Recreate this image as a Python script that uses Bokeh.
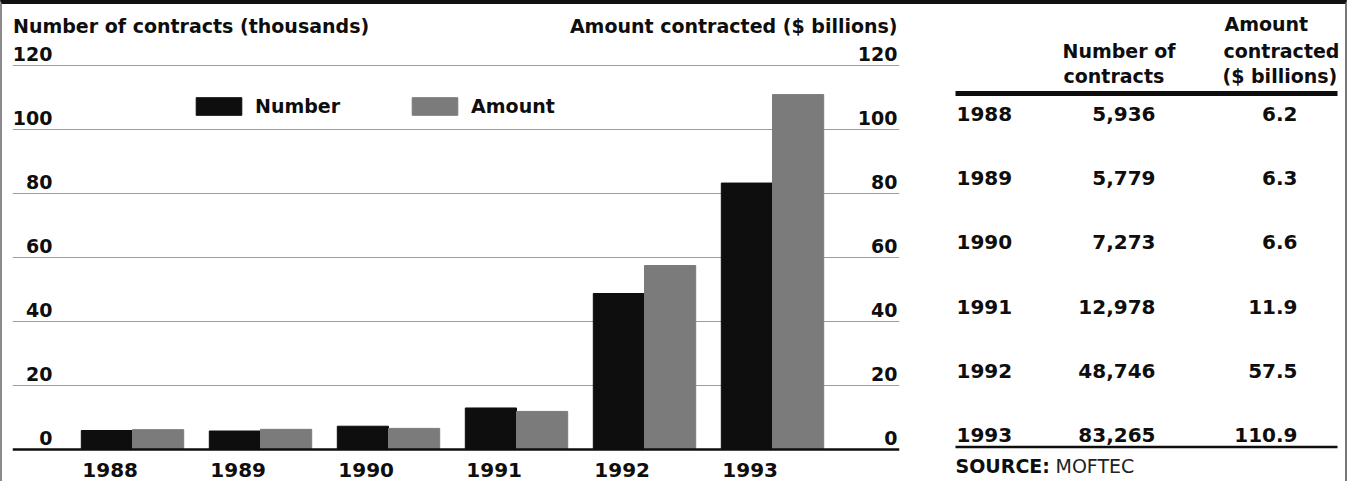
import numpy as np
from bokeh.plotting import figure
from bokeh.models import (Range1d, FixedTicker, Span, Legend, LegendItem,
                          ColumnDataSource, Grid)
from bokeh.layouts import row
from bokeh.transform import dodge
from bokeh.core.properties import value
from bokeh.embed import file_html
from bokeh.resources import INLINE

# ---------------- data ----------------
years = ["1988", "1989", "1990", "1991", "1992", "1993"]
contracts = [5936, 5779, 7273, 12978, 48746, 83265]          # number of contracts
amount = [6.2, 6.3, 6.6, 11.9, 57.5, 110.9]                  # $ billions
y_ticks = [0, 20, 40, 60, 80, 100, 120]
left_title = "Number of contracts (thousands)"
right_title = "Amount contracted ($ billions)"
series_names = ["Number", "Amount"]
head_number = ["Number of", "contracts"]
head_amount = ["Amount", "contracted", "($ billions)"]
source_label = "SOURCE:"
source_name = "MOFTEC"

# ---------------- style / layout ----------------
FONT = value("DejaVu Sans")
BLACK = "#0e0e0e"
GRAY = "#7b7b7b"
GRID = "#9c9c9c"

PX0, PXG = 132.0, 128.0     # page x of first group centre, px per group
PY0, PYU = 449.0, 3.2       # page y of value 0, px per unit
BT, BL, BR = 4, 2, 2         # border widths
W1, W2, H = 913, 430, 477


def dx(px):
    return (px - PX0) / PXG


def dy(py):
    return (PY0 - py) / PYU


chart = figure(width=W1, height=H,
               x_range=Range1d(dx(12), dx(899)), y_range=Range1d(dy(481), dy(4)),
               output_backend="svg", toolbar_location=None,
               x_axis_location=None, y_axis_location=None,
               min_border_left=12 - BL, min_border_right=(BL + W1) - 899,
               min_border_top=0, min_border_bottom=0,
               outline_line_color=None, background_fill_color="white",
               border_fill_color="white")
chart.xgrid.visible = False
chart.ygrid.visible = False
chart.add_layout(Grid(dimension=1, ticker=FixedTicker(ticks=y_ticks[1:]),
                      grid_line_color=GRID, grid_line_width=1.2), "center")

idx = np.arange(len(years))
src = ColumnDataSource(dict(x=idx, number=np.array(contracts) / 1000.0,
                            amount=amount, year=years))
r_num = chart.vbar(x=dodge("x", -0.2), top="number", width=0.4, source=src,
                   fill_color=BLACK, line_color=BLACK)
r_amt = chart.vbar(x=dodge("x", 0.2), top="amount", width=0.4, source=src,
                   fill_color=GRAY, line_color=GRAY)
chart.add_layout(Span(location=0, dimension="width", line_color=BLACK,
                      line_width=2.5))

lab = [str(t) for t in y_ticks]
common = dict(text_font=FONT, text_font_style="bold", text_color=BLACK)
lab_y = np.array(y_ticks) + 12.0 / PYU
chart.text(x=[dx(52)] * len(y_ticks), y=lab_y, text=lab,
           text_align="right", text_baseline="middle",
           text_font_size="19px", **common)
chart.text(x=[dx(897)] * len(y_ticks), y=lab_y, text=lab,
           text_align="right", text_baseline="middle",
           text_font_size="19px", **common)
chart.text(x=[dx(12.5)], y=[dy(25)], text=[left_title], text_align="left",
           text_baseline="middle", text_font_size="19px", **common)
chart.text(x=[dx(897)], y=[dy(25)], text=[right_title], text_align="right",
           text_baseline="middle", text_font_size="19px", **common)
chart.text(x=dodge("x", -0.4 + 1.0 / PXG), y=dy(469.5), text="year", source=src,
           text_align="left", text_baseline="middle",
           text_font_size="20px", **common)

legend = Legend(items=[LegendItem(label=series_names[0], renderers=[r_num]),
                       LegendItem(label=series_names[1], renderers=[r_amt])],
                orientation="horizontal", location=(190 - 12, 481 - 117),
                glyph_width=57, glyph_height=22, label_standoff=8, spacing=66,
                padding=0, margin=0, border_line_alpha=0,
                background_fill_alpha=0,
                label_text_font="DejaVu Sans", label_text_font_style="bold",
                label_text_font_size="19px", label_text_color=BLACK,
                label_height=22)
chart.add_layout(legend, "center")

# ---------------- table ----------------
RY0, RYS = 113.5, 64.2


def ty(py):
    return (py - RY0) / RYS


table = figure(width=W2, height=H,
               x_range=Range1d(BL + W1, BL + W1 + W2),
               y_range=Range1d(ty(481), ty(4)),
               output_backend="svg", toolbar_location=None,
               x_axis_location=None, y_axis_location=None,
               min_border=0, min_border_left=0, min_border_right=0,
               min_border_top=0, min_border_bottom=0,
               outline_line_color=None, border_fill_color="white")
table.xgrid.visible = False
table.ygrid.visible = False

tsrc = ColumnDataSource(dict(y=idx, year=years,
                             num=[f"{c:,}" for c in contracts],
                             amt=[f"{a:.1f}" for a in amount]))
table.text(x=956, y="y", text="year", source=tsrc, text_align="left",
           text_baseline="middle", text_font_size="20px", **common)
table.text(x=1155, y="y", text="num", source=tsrc, text_align="right",
           text_baseline="middle", text_font_size="20px", **common)
table.text(x=1297, y="y", text="amt", source=tsrc, text_align="right",
           text_baseline="middle", text_font_size="20px", **common)

table.text(x=[1062, 1063], y=[ty(50), ty(75)], text=head_number,
           text_align="left", text_baseline="middle",
           text_font_size="19px", **common)
table.text(x=[1224, 1223, 1222], y=[ty(23), ty(50), ty(75)], text=head_amount,
           text_align="left", text_baseline="middle",
           text_font_size="19px", **common)

table.segment(x0=[955], x1=[1337], y0=[ty(93)], y1=[ty(93)],
              line_color=BLACK, line_width=5)
table.segment(x0=[955], x1=[1337], y0=[ty(446.5)], y1=[ty(446.5)],
              line_color=BLACK, line_width=2.5)

table.text(x=[955], y=[ty(465)], text=[source_label], text_align="left",
           text_baseline="middle", text_font_size="19px", **common)
table.text(x=[1055], y=[ty(465)], text=[source_name], text_align="left",
           text_baseline="middle", text_font_size="19px",
           text_font=FONT, text_font_style="normal", text_color="#222222")

layout = row(chart, table, styles={"border-top": f"{BT}px solid #111111",
                                   "border-left": f"{BL}px solid #8a8a8a",
                                   "border-right": f"{BR}px solid #777777"})

open("out.html", "w").write(file_html(layout, INLINE))
